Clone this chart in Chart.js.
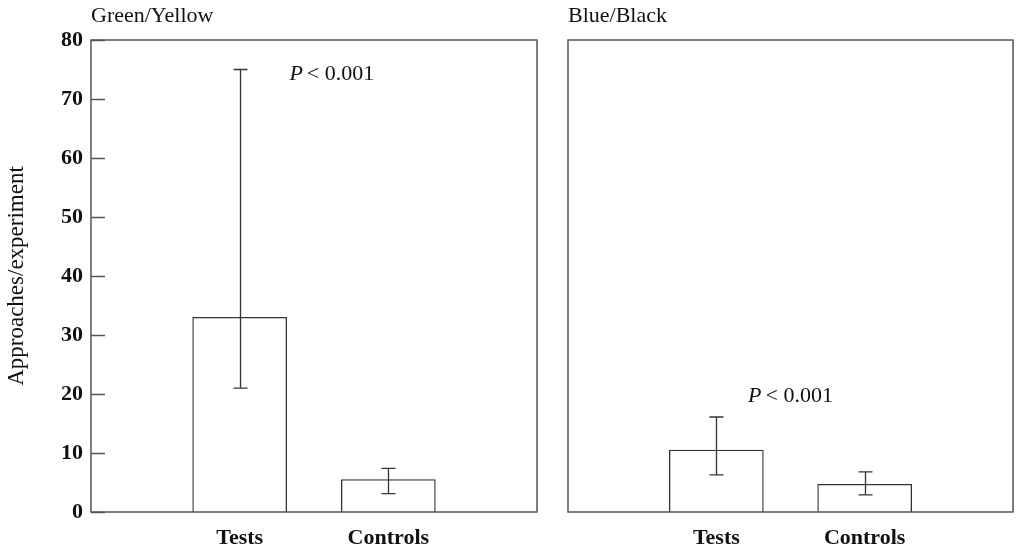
<!DOCTYPE html>
<html>
<head>
<meta charset="utf-8">
<script src="https://cdn.jsdelivr.net/npm/chart.js@4"></script>
<style>
  body { margin: 0; background: #fff; overflow: hidden; }
  #leftDiv { position: absolute; left: 0; top: 0; width: 545px; height: 550px; }
  #rightDiv { position: absolute; left: 545px; top: 0; width: 473px; height: 550px; }
</style>
</head>
<body>
<div id="leftDiv"><canvas id="leftCanvas"></canvas></div>
<div id="rightDiv"><canvas id="rightCanvas"></canvas></div>
<script>
//data
const categories = ["", "Tests", "Controls", ""];
const greenMeans = [null, 33, 5.5, null];
const greenLow = [null, 21, 3.1, null];
const greenHigh = [null, 75, 7.4, null];
const blueMeans = [null, 10.5, 4.7, null];
const blueLow = [null, 6.3, 2.9, null];
const blueHigh = [null, 16.1, 6.8, null];
const yMax = 80;
const yStep = 10;
const yTitle = "Approaches/experiment";
const pText = ["P", "< 0.001"];

const serif = "'Liberation Serif', serif";
const ink = "#111";
const frame = "#555";

//panel plugin: frame, inward ticks, error bars, titles, p-values
const panelPlugin = {
  id: "panel",
  afterDatasetsDraw(chart) {
    const o = chart.options.plugins.panel;
    const ctx = chart.ctx;
    const area = chart.chartArea;
    const x = chart.scales.x;
    const y = chart.scales.y;
    ctx.save();
    //error bars
    ctx.strokeStyle = "#333";
    ctx.lineWidth = 1.3;
    for (let i = 0; i < categories.length; i++) {
      if (o.low[i] === null) continue;
      const px = Math.round(x.getPixelForValue(i)) + 0.5;
      const y1 = y.getPixelForValue(o.low[i]);
      const y2 = y.getPixelForValue(o.high[i]);
      ctx.beginPath();
      ctx.moveTo(px, y1);
      ctx.lineTo(px, y2);
      ctx.moveTo(px - 7, y1);
      ctx.lineTo(px + 7, y1);
      ctx.moveTo(px - 7, y2);
      ctx.lineTo(px + 7, y2);
      ctx.stroke();
    }
    //frame
    ctx.strokeStyle = frame;
    ctx.lineWidth = 1.5;
    ctx.strokeRect(area.left, area.top, area.right - area.left, area.bottom - area.top);
    //inward ticks
    if (o.showTicks) {
      ctx.beginPath();
      for (let v = 0; v <= yMax; v += yStep) {
        const py = Math.round(y.getPixelForValue(v)) + 0.5;
        ctx.moveTo(area.left, py);
        ctx.lineTo(area.left + 14, py);
      }
      ctx.stroke();
    }
    //panel title
    ctx.fillStyle = ink;
    ctx.font = "22px " + serif;
    ctx.textBaseline = "alphabetic";
    ctx.textAlign = "left";
    ctx.fillText(o.title, area.left, 22);
    //p-value note
    ctx.font = "italic 22px " + serif;
    const w1 = ctx.measureText(pText[0]).width;
    ctx.font = "22px " + serif;
    const w2 = ctx.measureText(pText[1]).width;
    const cx = x.getPixelForValue(o.noteX);
    const by = y.getPixelForValue(o.noteY);
    const sx = cx - (w1 + w2 + 4) / 2;
    ctx.font = "italic 22px " + serif;
    ctx.fillText(pText[0], sx, by);
    ctx.font = "22px " + serif;
    ctx.fillText(pText[1], sx + w1 + 4, by);
    ctx.restore();
  },
};

function makeChart(canvasId, means, low, high, title, noteX, noteY, withAxis, axisWidth, padRight) {
  return new Chart(document.getElementById(canvasId), {
    type: "bar",
    data: {
      labels: categories,
      datasets: [
        {
          data: means,
          backgroundColor: "#fff",
          borderColor: "#333",
          borderWidth: 1.3,
          barThickness: 94,
        },
      ],
    },
    options: {
      responsive: true,
      maintainAspectRatio: false,
      animation: false,
      layout: {
        autoPadding: false,
        padding: { left: 0, right: padRight, top: 40, bottom: 0 },
      },
      plugins: {
        legend: { display: false },
        tooltip: { enabled: false },
        panel: {
          title: title,
          low: low,
          high: high,
          noteX: noteX,
          noteY: noteY,
          showTicks: withAxis,
        },
      },
      scales: {
        x: {
          offset: false,
          grid: { display: false, drawTicks: false, offset: false },
          border: { display: false },
          ticks: {
            autoSkip: false,
            maxRotation: 0,
            padding: 13,
            color: ink,
            font: { family: serif, size: 22, weight: "bold" },
          },
          afterFit(scale) {
            scale.height = 38;
            scale.paddingLeft = 0;
            scale.paddingRight = 0;
          },
        },
        y: {
          min: 0,
          max: yMax,
          grid: { display: false, drawTicks: false },
          border: { display: false },
          ticks: {
            display: withAxis,
            stepSize: yStep,
            padding: 8,
            color: ink,
            font: { family: serif, size: 22, weight: "bold" },
          },
          title: {
            display: withAxis,
            text: yTitle,
            color: ink,
            padding: { top: 3, bottom: 0 },
            font: { family: serif, size: 23 },
          },
          afterFit(scale) {
            scale.width = axisWidth;
            scale.paddingTop = 0;
            scale.paddingBottom = 0;
          },
        },
      },
    },
    plugins: [panelPlugin],
  });
}

//charts
var leftChart = makeChart("leftCanvas", greenMeans, greenLow, greenHigh, "Green/Yellow", 1.62, 73.2, true, 91, 8);
var rightChart = makeChart("rightCanvas", blueMeans, blueLow, blueHigh, "Blue/Black", 1.5, 18.7, false, 23, 5);
</script>
</body>
</html>
